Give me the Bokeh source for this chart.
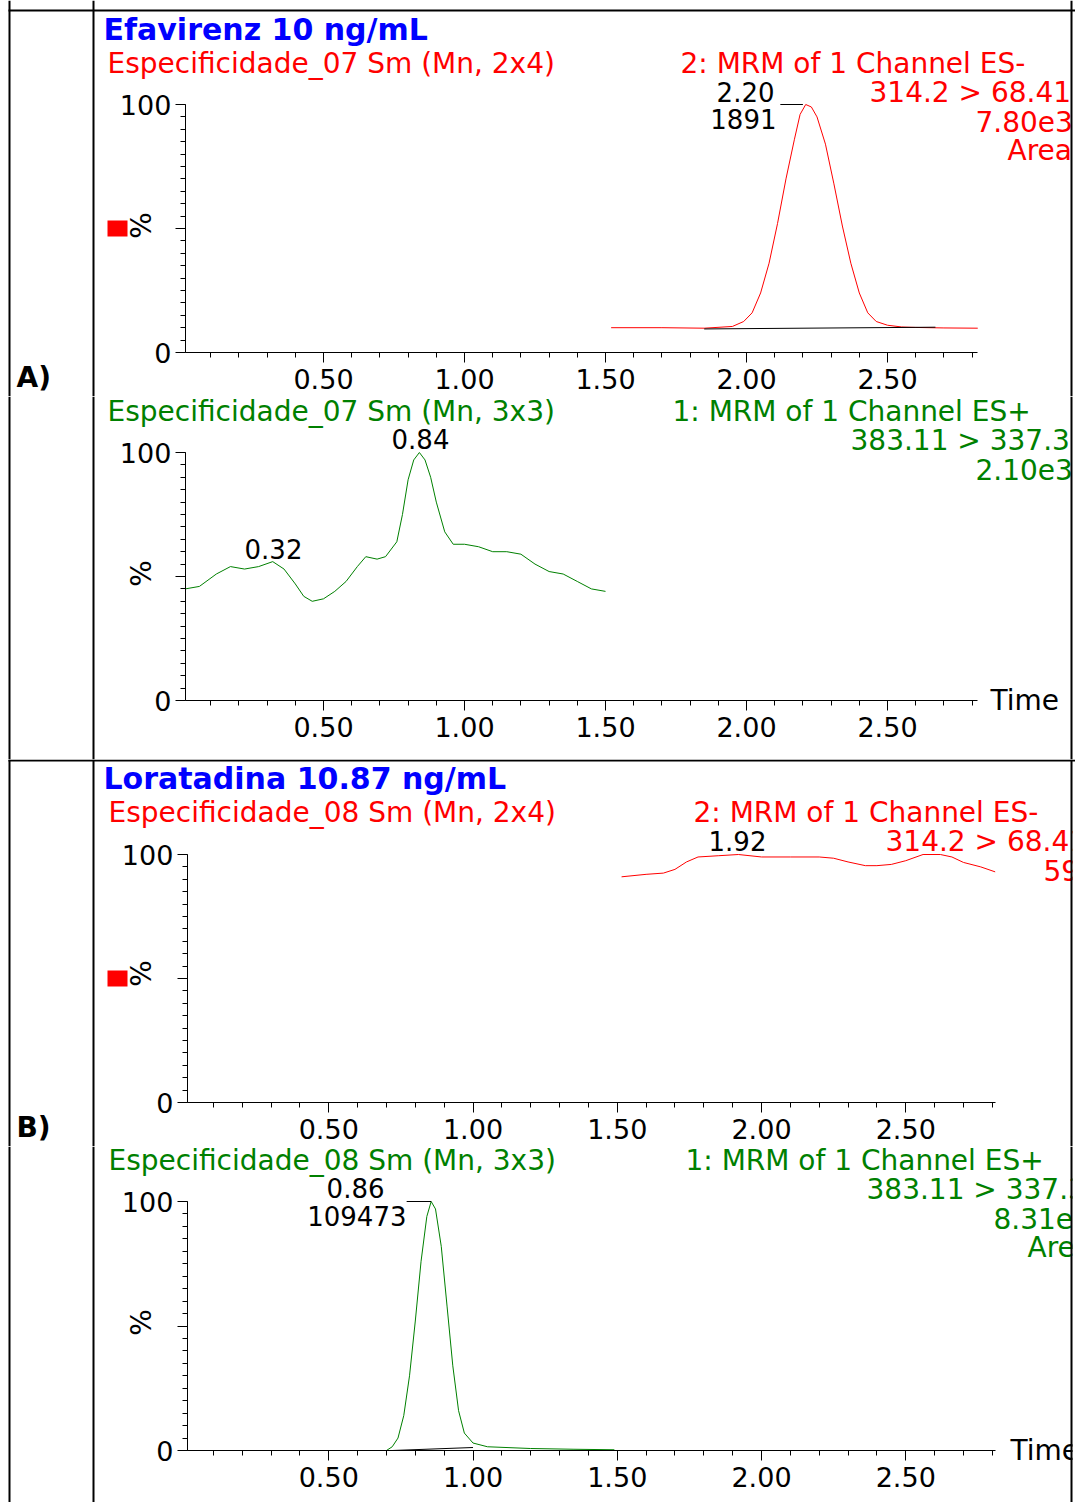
from bokeh.plotting import figure
from bokeh.layouts import column
from bokeh.models import Range1d, FixedTicker, Label, BoxAnnotation, LinearAxis
from bokeh.embed import file_html
from bokeh.resources import INLINE

# ---------------- data ----------------
a1_x = [1.52, 1.70, 1.85, 1.95, 1.99, 2.02, 2.05, 2.08, 2.11, 2.14, 2.17, 2.19, 2.21, 2.23, 2.25, 2.28, 2.31, 2.34, 2.37, 2.40, 2.43, 2.46, 2.50, 2.55, 2.60, 2.70, 2.82]
a1_y = [10, 10, 9.8, 10.5, 12.5, 16, 24, 36, 52, 70, 86, 96, 100, 99, 95, 84, 68, 51, 36, 24, 16, 12.5, 11, 10.3, 10.1, 9.9, 9.8]
a1_base_x = [1.85, 2.67]
a1_base_y = [9.5, 10.2]

a2_x = [0.01, 0.06, 0.12, 0.17, 0.22, 0.27, 0.32, 0.36, 0.40, 0.43, 0.46, 0.50, 0.54, 0.58, 0.62, 0.65, 0.69, 0.72, 0.76, 0.78, 0.80, 0.82, 0.84, 0.86, 0.88, 0.90, 0.93, 0.96, 1.00, 1.05, 1.10, 1.15, 1.20, 1.25, 1.30, 1.35, 1.40, 1.45, 1.50]
a2_y = [45, 46, 51, 54, 53, 54, 56, 53, 47, 42, 40, 41, 44, 48, 54, 58, 57, 58, 64, 75, 89, 97, 100, 97, 90, 80, 68, 63, 63, 62, 60, 60, 59, 55, 52, 51, 48, 45, 44]

b1_x = [1.515, 1.60, 1.66, 1.70, 1.74, 1.78, 1.85, 1.92, 2.00, 2.10, 2.20, 2.25, 2.30, 2.36, 2.40, 2.45, 2.50, 2.56, 2.62, 2.66, 2.70, 2.76, 2.81]
b1_y = [91, 92, 92.5, 94, 97, 99, 99.5, 100, 99, 99, 99, 98.5, 97, 95.5, 95.5, 96, 97.5, 100, 100, 99, 96.8, 95, 93]

b2_x = [0.01, 0.40, 0.70, 0.72, 0.74, 0.76, 0.78, 0.80, 0.82, 0.84, 0.855, 0.87, 0.89, 0.91, 0.93, 0.95, 0.97, 1.00, 1.05, 1.20, 1.35, 1.49]
b2_y = [0, 0, 0, 1.5, 5, 14, 30, 52, 76, 94, 100, 97, 82, 58, 34, 16, 7, 3, 1.5, 0.8, 0.5, 0.3]
b2_base_x = [0.72, 1.00]
b2_base_y = [0, 1.2]

x_ticks = [0.5, 1.0, 1.5, 2.0, 2.5]
FONT = "DejaVu Sans"
RED = "#ff0000"
GREEN = "#008000"
BLUE = "#0000ff"
W = 1075
HS = 28   # header text size
TS = 30   # title size
NS = 26   # peak annotation size


def make_fig(h, y100, y0px, x0px, pxu, xend):
    ppu = (y0px - y100) / 100.0
    p = figure(width=W, height=h, output_backend="svg", toolbar_location=None,
               x_axis_type=None, y_axis_type=None, min_border=0,
               x_range=Range1d(-x0px / pxu, (W - x0px) / pxu),
               y_range=Range1d(-(h - y0px) / ppu, 100 + y100 / ppu))
    p.outline_line_color = None
    p.grid.visible = False
    xa = LinearAxis(fixed_location=0, bounds=(0.01, xend),
                    ticker=FixedTicker(ticks=x_ticks, minor_ticks=[i / 10 for i in range(1, 29)]),
                    major_label_overrides={t: f"{t:.2f}" for t in x_ticks})
    ya = LinearAxis(fixed_location=0.01, bounds=(0, 100),
                    ticker=FixedTicker(ticks=[0, 50, 100], minor_ticks=list(range(0, 101, 5))),
                    major_label_overrides={50: ""})
    p.add_layout(xa, "below")
    p.add_layout(ya, "left")
    for ax in (xa, ya):
        ax.major_label_text_font = FONT
        ax.major_label_text_font_size = "27px"
        ax.major_label_text_color = "black"
        ax.axis_line_color = "black"
        ax.major_tick_line_color = "black"
        ax.minor_tick_line_color = "black"
        ax.major_tick_out = 10
        ax.minor_tick_out = 5
        ax.major_tick_in = 0
        ax.minor_tick_in = 0
    xa.major_label_standoff = 6
    ya.major_label_standoff = 4
    return p


def lab(p, top, x, y, text, color="black", size=HS, align="left", bold=False, angle=0):
    p.add_layout(Label(x=x, y=y - top, x_units="canvas", y_units="canvas", text=text,
                       text_color=color, text_font=FONT, text_font_size=f"{size}px",
                       text_align=align, text_baseline="middle", angle=angle,
                       text_font_style="bold" if bold else "normal"))


def box(p, l, r, t, b, color="black"):
    p.add_layout(BoxAnnotation(left=l, right=r, top=t, bottom=b,
                               left_units="canvas", right_units="canvas",
                               top_units="canvas", bottom_units="canvas",
                               fill_color=color, fill_alpha=1, line_color=None))


def borders(p, h):
    box(p, 1072, W, 0, h, "white")
    for x in (8, 92, 1070):
        box(p, x, x + 2, 0, h)

# ---------- A1 ----------
T = 0
H1 = 396
p1 = make_fig(H1, 104, 352, 182, 282, 2.82)
p1.line(a1_x, a1_y, color=RED, line_width=1)
p1.line(a1_base_x, a1_base_y, color="black", line_width=1)
p1.line([2.12, 2.20], [100, 100], color="black", line_width=1)
lab(p1, T, 103, 29, "Efavirenz 10 ng/mL", BLUE, TS, bold=True)
lab(p1, T, 107, 63, "Especificidade_07 Sm (Mn, 2x4)", RED)
lab(p1, T, 680, 63, "2: MRM of 1 Channel ES-", RED)
lab(p1, T, 869, 92, "314.2 > 68.41", RED)
lab(p1, T, 975, 121, "7.80e3", RED)
lab(p1, T, 1007, 150, "Area", RED)
lab(p1, T, 774, 91, "2.20", "black", NS, align="right")
lab(p1, T, 776, 118, "1891", "black", NS, align="right")
box(p1, 107, 127, 220, 236, RED)
lab(p1, T, 141, 225, "%", "black", HS, align="center", angle=1.5708)
lab(p1, T, 16, 377, "A)", "black", HS, bold=True)
borders(p1, H1)
box(p1, 8, W, 9, 11)

# ---------- A2 ----------
T = H1
H2 = 759 - H1
p2 = make_fig(H2, 452 - T, 700 - T, 182, 282, 2.82)
p2.line(a2_x, a2_y, color=GREEN, line_width=1)
lab(p2, T, 107, 411, "Especificidade_07 Sm (Mn, 3x3)", GREEN)
lab(p2, T, 672, 411, "1: MRM of 1 Channel ES+", GREEN)
lab(p2, T, 850, 440, "383.11 > 337.3", GREEN)
lab(p2, T, 975, 469, "2.10e3", GREEN)
lab(p2, T, 420, 438, "0.84", "black", NS, align="center")
lab(p2, T, 273, 548, "0.32", "black", NS, align="center")
lab(p2, T, 141, 573, "%", "black", HS, align="center", angle=1.5708)
lab(p2, T, 990, 700, "Time", "black", HS)
borders(p2, H2)

# ---------- B1 ----------
T = 759
H3 = 387
p3 = make_fig(H3, 854 - T, 1102 - T, 184, 288.5, 2.81)
p3.line(b1_x, b1_y, color=RED, line_width=1)
lab(p3, T, 103, 778, "Loratadina 10.87 ng/mL", BLUE, TS, bold=True)
lab(p3, T, 108, 812, "Especificidade_08 Sm (Mn, 2x4)", RED)
lab(p3, T, 693, 812, "2: MRM of 1 Channel ES-", RED)
lab(p3, T, 885, 841, "314.2 > 68.41", RED)
lab(p3, T, 1043, 870, "59.6", RED)
lab(p3, T, 737, 840, "1.92", "black", NS, align="center")
box(p3, 107, 127, 970 - T, 986 - T, RED)
lab(p3, T, 141, 973, "%", "black", HS, align="center", angle=1.5708)
lab(p3, T, 16, 1127, "B)", "black", HS, bold=True)
borders(p3, H3)
box(p3, 8, W, 0, 2)

# ---------- B2 ----------
T = 759 + H3
H4 = 1502 - T
p4 = make_fig(H4, 1201 - T, 1450 - T, 184, 288.5, 2.81)
p4.line(b2_x, b2_y, color=GREEN, line_width=1)
p4.line(b2_base_x, b2_base_y, color="black", line_width=1)
p4.line([0.77, 0.855], [100, 100], color="black", line_width=1)
lab(p4, T, 108, 1160, "Especificidade_08 Sm (Mn, 3x3)", GREEN)
lab(p4, T, 685, 1160, "1: MRM of 1 Channel ES+", GREEN)
lab(p4, T, 866, 1189, "383.11 > 337.3", GREEN)
lab(p4, T, 993, 1218, "8.31e4", GREEN)
lab(p4, T, 1027, 1247, "Area", GREEN)
lab(p4, T, 384, 1187, "0.86", "black", NS, align="right")
lab(p4, T, 406, 1215, "109473", "black", NS, align="right")
lab(p4, T, 141, 1322, "%", "black", HS, align="center", angle=1.5708)
lab(p4, T, 1010, 1450, "Time", "black", HS)
borders(p4, H4)

lay = column(p1, p2, p3, p4, spacing=0)
open("out.html", "w").write(file_html(lay, INLINE))
